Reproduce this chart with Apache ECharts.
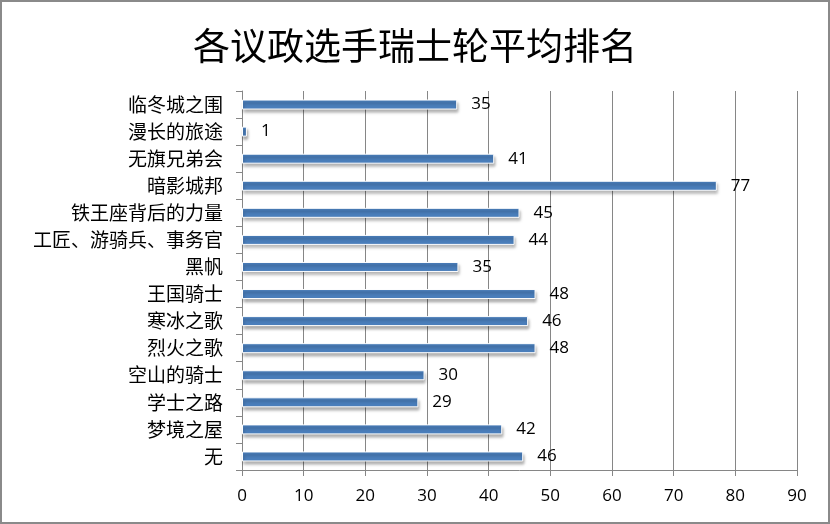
<!DOCTYPE html>
<html>
<head>
<meta charset="utf-8">
<script src="https://cdn.jsdelivr.net/npm/echarts@6/dist/echarts.min.js"></script>
<style>
  html,body{margin:0;padding:0;background:#fff;}
  #main{width:826px;height:520px;border:2px solid #8a8a8a;}
</style>
</head>
<body>
<div id="main"></div>
<script>
// 类别（自下而上）
const categories=['无','梦境之屋','学士之路','空山的骑士','烈火之歌','寒冰之歌','王国骑士','黑帆','工匠、游骑兵、事务官','铁王座背后的力量','暗影城邦','无旗兄弟会','漫长的旅途','临冬城之围']
// 平均排名
const values=[45.6,42.2,28.6,29.6,47.6,46.4,47.6,35.1,44.2,45.0,77.0,40.9,0.8,34.9]
const xTicks=[0,10,20,30,40,50,60,70,80,90]

let chart=echarts.init(document.getElementById('main'))
chart.setOption({
  animation:false,
  title:{
    text:'各议政选手瑞士轮平均排名',
    left:'center',
    top:20,
    textStyle:{fontFamily:'Noto Sans CJK SC',fontSize:37,fontWeight:'normal',color:'#000'}
  },
  grid:{left:240,right:31,top:89,bottom:52,containLabel:false},
  xAxis:{
    type:'value',
    min:xTicks[0],
    max:xTicks[xTicks.length-1],
    interval:10,
    axisLine:{show:true,lineStyle:{color:'#868686'}},
    axisTick:{show:true,length:6,lineStyle:{color:'#868686'}},
    axisLabel:{fontFamily:'Open Sans',fontSize:17,color:'#000',margin:18},
    splitLine:{show:true,lineStyle:{color:'#868686'}}
  },
  yAxis:{
    type:'category',
    data:categories,
    axisLine:{show:true,lineStyle:{color:'#868686'}},
    axisTick:{show:true,length:6,lineStyle:{color:'#868686'}},
    axisLabel:{fontFamily:'Noto Sans CJK SC',fontSize:19,color:'#000',margin:19},
    splitLine:{show:false}
  },
  series:[{
    type:'bar',
    data:values,
    barWidth:10,
    itemStyle:{
      color:'#4a7ebb',
      borderColor:'#fff',
      borderWidth:1,
      shadowColor:'rgba(0,0,0,0.35)',
      shadowBlur:3,
      shadowOffsetX:1,
      shadowOffsetY:3
    },
    label:{
      show:true,
      position:'right',
      distance:14,
      fontFamily:'Open Sans',
      fontSize:17,
      color:'#000',
      formatter:p=>Math.round(p.value)
    }
  }]
})
</script>
</body>
</html>
